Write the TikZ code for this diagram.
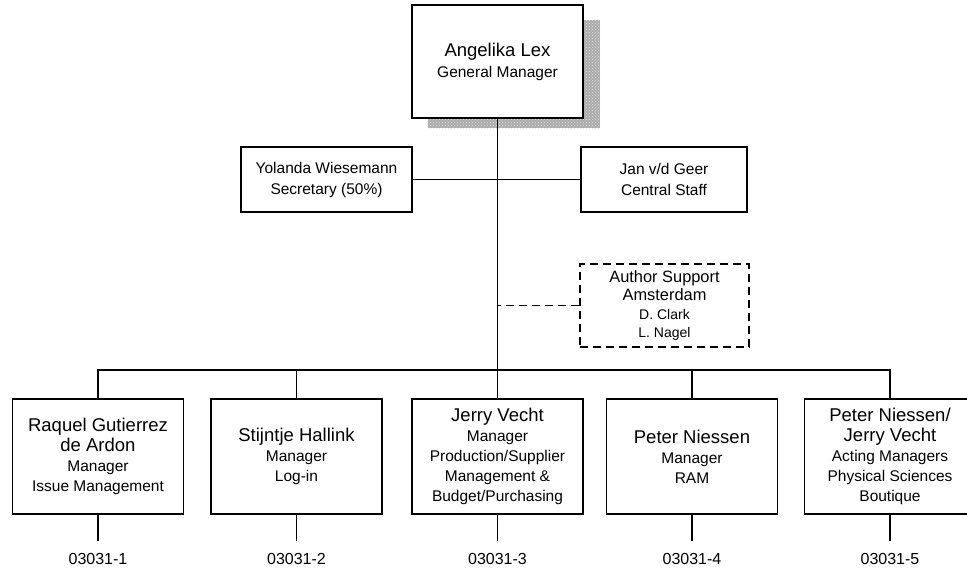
\documentclass[tikz,border=0pt]{standalone}
\usepackage{fontspec}
\setmainfont{Liberation Sans}
\usetikzlibrary{patterns}
\newcommand\pname[1]{{\fontsize{18.5}{20}\selectfont #1}}
\begin{document}
\begin{tikzpicture}[x=1pt,y=-1pt,
  unitbox/.style={draw,line width=1.6pt,fill=white,minimum width=171pt,minimum height=115pt,
    align=center,inner sep=0pt,font=\fontsize{15.5}{20}\selectfont},
  staffbox/.style={draw,line width=1.6pt,fill=white,minimum height=65pt,
    align=center,inner sep=0pt,font=\fontsize{15.5}{21}\selectfont},
  supportbox/.style={draw,line width=1.2pt,dash pattern=on 8pt off 5pt,fill=white,
    minimum width=169pt,minimum height=83pt,align=center,inner sep=0pt,
    font=\fontsize{14}{18.5}\selectfont},
  code/.style={inner sep=0pt,font=\fontsize{16}{18}\selectfont},
  link/.style={line width=1.5pt},
  dashlink/.style={line width=1.2pt,dash pattern=on 8pt off 5pt}
]
\useasboundingbox (0,0) rectangle (967,571);
\clip (0,0) rectangle (967,571);

% speckled drop shadow behind the general manager box
\fill[gray!65] (428,20) rectangle (600,128);
\fill[pattern=crosshatch dots,pattern color=gray!25] (428,20) rectangle (600,128);

% general manager
\node[unitbox,minimum height=113pt,font=\fontsize{15.5}{21}\selectfont] (gm) at (497.5,61.5)
  {\pname{Angelika Lex}\\General Manager};

% staff
\node[staffbox,minimum width=171pt] (sec) at (326.5,179.5) {Yolanda Wiesemann\\Secretary (50\%)};
\node[staffbox,minimum width=166pt] (cs) at (664,179.5) {Jan v/d Geer\\Central Staff};

% author support
\node[supportbox] (as) at (664.5,305.5)
  {{\fontsize{16.4}{18.5}\selectfont Author Support}\\{\fontsize{16.4}{18.5}\selectfont Amsterdam}\\D. Clark\\L. Nagel};

% departments
\node[unitbox] (d1) at (98,456.5)
  {\pname{Raquel Gutierrez}\\\pname{de Ardon}\\Manager\\Issue Management};
\node[unitbox] (d2) at (296.5,456.5)
  {\pname{Stijntje Hallink}\\Manager\\Log-in};
\node[unitbox] (d3) at (497.5,456.5)
  {\pname{Jerry Vecht}\\Manager\\Production/Supplier\\Management \&\\Budget/Purchasing};
\node[unitbox] (d4) at (692,456.5)
  {\pname{Peter Niessen}\\Manager\\RAM};
\node[unitbox] (d5) at (890,456.5)
  {\pname{Peter Niessen/}\\\pname{Jerry Vecht}\\Acting Managers\\Physical Sciences\\Boutique};

% cost-centre codes
\node[code] (c1) at (98,559) {03031-1};
\node[code] (c2) at (296.5,559) {03031-2};
\node[code] (c3) at (497.5,559) {03031-3};
\node[code] (c4) at (692,559) {03031-4};
\node[code] (c5) at (890,559) {03031-5};

% connectors
\coordinate (bus) at (0,370);
\draw[link] (gm.south) -- (d3.north);
\draw[link] (sec.east) -- (cs.west);
\draw[dashlink] (as.west) -- (as.west -| gm.south);
\draw[link] (d1.north) -- (d1.north |- bus) -- (d5.north |- bus) -- (d5.north);
\foreach \d in {d2,d4} \draw[link] (\d.north) -- (\d.north |- bus);
\foreach \d/\c in {d1/c1,d2/c2,d3/c3,d4/c4,d5/c5}
  \draw[link,shorten >=12pt] (\d.south) -- (\c.north);
\end{tikzpicture}
\end{document}
